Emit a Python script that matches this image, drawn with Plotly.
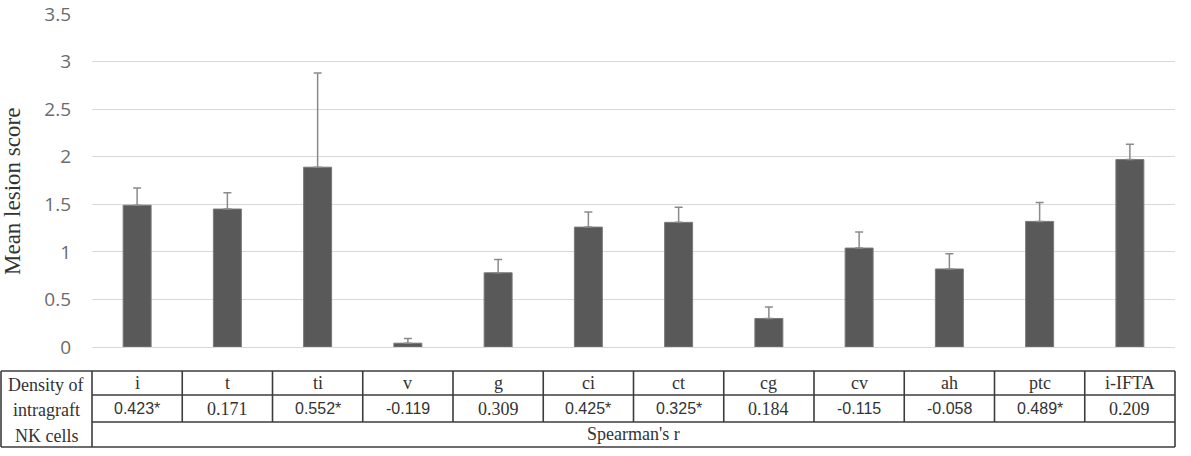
import plotly.graph_objects as go

categories = ["i", "t", "ti", "v", "g", "ci", "ct", "cg", "cv", "ah", "ptc", "i-IFTA"]
mean_scores = [1.49, 1.45, 1.89, 0.04, 0.78, 1.26, 1.31, 0.30, 1.04, 0.82, 1.32, 1.97]
upper_error = [0.18, 0.17, 0.99, 0.05, 0.14, 0.16, 0.16, 0.12, 0.17, 0.16, 0.20, 0.16]
spearman_r = ["0.423*", "0.171", "0.552*", "-0.119", "0.309", "0.425*", "0.325*",
              "0.184", "-0.115", "-0.058", "0.489*", "0.209"]
# which r values are typeset in sans (Arial) vs serif (Times) in the original
r_is_sans = [True, False, True, True, False, True, True, False, True, True, True, False]
y_ticks = [0, 0.5, 1, 1.5, 2, 2.5, 3, 3.5]
y_tick_labels = ["0", "0.5", "1", "1.5", "2", "2.5", "3", "3.5"]
row_labels = ["Density of", "intragraft", "NK cells"]
merged_label = "Spearman's r"
y_title = "Mean lesion score"

W, H = 1191, 456
L, R, T, B = 92, 16, 14, 109
pw, ph = W - L - R, H - T - B


def px_to_paper_x(px):
    return (px - L) / pw


def px_to_paper_y(py):
    return (H - B - py) / ph


fig = go.Figure()
fig.add_trace(go.Bar(
    x=categories, y=mean_scores,
    marker=dict(color="#595959", line=dict(color="#7a7a7a", width=1)),
    error_y=dict(type="data", array=upper_error, arrayminus=[0] * len(categories),
                 symmetric=False, color="#8a8a8a", thickness=1.5, width=4),
    hoverinfo="skip",
))

serif = "Liberation Serif"
sans = "Liberation Sans"
line_col = "#3c3c3c"
lw = 1.6
n = len(categories)

# table geometry (pixels)
top_y, r1_y, r2_y, bot_y = 371, 395, 422, 447
left_x = 1
shapes = []
def hline(x0, x1, y):
    shapes.append(dict(type="line", xref="paper", yref="paper",
                       x0=x0, x1=x1, y0=px_to_paper_y(y), y1=px_to_paper_y(y),
                       line=dict(color=line_col, width=lw)))
def vline(x, y0, y1):
    shapes.append(dict(type="line", xref="paper", yref="paper",
                       x0=x, x1=x, y0=px_to_paper_y(y0), y1=px_to_paper_y(y1),
                       line=dict(color=line_col, width=lw)))

hline(px_to_paper_x(left_x), 1, top_y)
hline(px_to_paper_x(left_x), 1, bot_y)
hline(0, 1, r1_y)
hline(0, 1, r2_y)
vline(px_to_paper_x(left_x), top_y, bot_y)
vline(0, top_y, bot_y)
vline(1, top_y, bot_y)
for k in range(1, n):
    vline(k / n, top_y, r2_y)

annotations = []
c1 = px_to_paper_y((top_y + r1_y) / 2)
c2 = px_to_paper_y((r1_y + r2_y) / 2)
c3 = px_to_paper_y((r2_y + bot_y) / 2)
def ann(x, y, text, family, size, **kw):
    d = dict(x=x, y=y, xref="paper", yref="paper", text=text, showarrow=False,
             xanchor="center", yanchor="middle",
             font=dict(family=family, size=size, color="#333"))
    d.update(kw)
    annotations.append(d)

for k, (cat, r, sans_flag) in enumerate(zip(categories, spearman_r, r_is_sans)):
    xc = (k + 0.5) / n
    ann(xc, c1, cat, serif, 18)
    ann(xc, c2, r, sans if sans_flag else serif, 16 if sans_flag else 18)
ann(0.5, c3, merged_label, serif, 18)
for lab, yy in zip(row_labels, [385, 410, 436]):
    ann(px_to_paper_x(46), px_to_paper_y(yy), lab, serif, 18)
ann(px_to_paper_x(13), px_to_paper_y(192), y_title, serif, 23, textangle=-90)

fig.update_layout(
    width=W, height=H,
    margin=dict(l=L, r=R, t=T, b=B, pad=0, autoexpand=False),
    paper_bgcolor="white", plot_bgcolor="white",
    bargap=0.69,
    showlegend=False,
    shapes=shapes,
    annotations=annotations,
    xaxis=dict(showticklabels=False, showline=False, showgrid=False, zeroline=False,
               ticks="", fixedrange=True, automargin=False),
    yaxis=dict(range=[0, 3.5], tickvals=y_ticks, ticktext=y_tick_labels,
               showgrid=True, gridcolor="#d9d9d9", gridwidth=1,
               zeroline=True, zerolinecolor="#d9d9d9", zerolinewidth=1,
               showline=False, ticks="", ticklabelstandoff=20, automargin=False,
               tickfont=dict(family="Open Sans", size=19, color="#6b6b6b")),
)

fig.write_html("out.html")
